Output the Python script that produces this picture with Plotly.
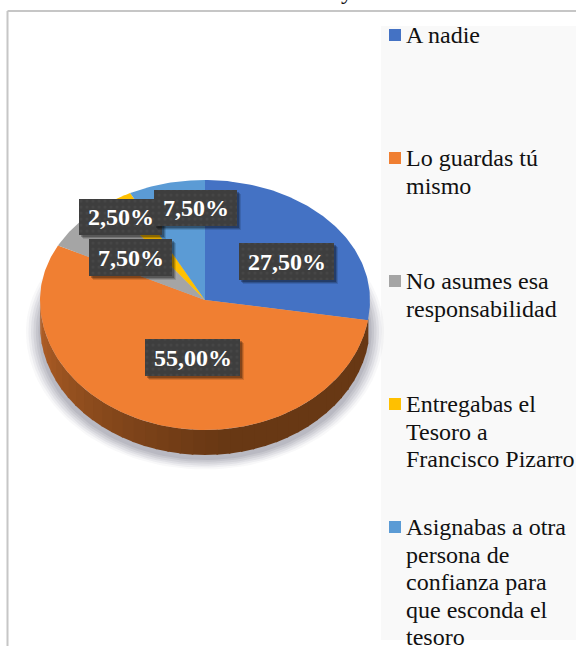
import numpy as np
import plotly.graph_objects as go

categories = [
    "A nadie",
    "Lo guardas tú mismo",
    "No asumes esa responsabilidad",
    "Entregabas el Tesoro a Francisco Pizarro",
    "Asignabas a otra persona de confianza para que esconda el tesoro",
]
values = [27.5, 55.0, 7.5, 2.5, 7.5]
pct_labels = ["27,50%", "55,00%", "7,50%", "2,50%", "7,50%"]
colors = ["#4472C4", "#F07F32", "#A5A5A5", "#FFC000", "#5B9BD5"]
legend_lines = [
    ["A nadie"],
    ["Lo guardas tú", "mismo"],
    ["No asumes esa", "responsabilidad"],
    ["Entregabas el", "Tesoro a", "Francisco Pizarro"],
    ["Asignabas a otra", "persona de", "confianza para", "que esconda el", "tesoro"],
]
legend_key_y = [35, 158, 281, 404, 527]

W, H = 576, 646
CX, CY = 205, 300      # pie apex in page pixels
RX, RY = 165, 120      # pie radius, sideways and towards the back
FRONT = 130 / 120      # front half looks bigger (perspective)
DEPTH = 25 / 120       # wall height
SERIF = "Liberation Serif"
LINE_STEP = 27.6

# label boxes: x0, x1, y0, y1 in page pixels, drawn in this order
label_boxes = {
    1: (145, 240, 339, 376),
    0: (239, 334, 243, 280),
    2: (89, 172, 239, 276),
    3: (79, 162, 199, 235),
    4: (154, 237, 190, 226),
}


def rim(theta):
    """Point on the top face for an angle clockwise from 12 o'clock."""
    c = np.cos(theta)
    return np.sin(theta), np.where(c < 0, c * FRONT, c)


def sector(start, end):
    t = np.linspace(start, end, max(int((end - start) * 60), 3))
    x, y = rim(t)
    return np.r_[0, x, 0], np.r_[0, y, 0]


def wall_color(theta):
    # lit on the left edge, dark from the front round to the right
    k = max(0.0, (theta - np.pi * 0.95) / (np.pi * 0.55)) ** 1.2
    dark, light = (104, 56, 20), (182, 98, 40)
    return "rgb(%d,%d,%d)" % tuple(d + (l - d) * k for d, l in zip(dark, light))


fig = go.Figure()

# soft shadow under the pie
t = np.linspace(0, 2 * np.pi, 160)
sx, sy = rim(t)
for grow, alpha in [(1.085, 0.05), (1.07, 0.08), (1.055, 0.10), (1.04, 0.12), (1.025, 0.14), (1.01, 0.16)]:
    fig.add_trace(go.Scatter(
        x=sx * grow, y=sy * grow * 0.98 - DEPTH * 1.25,
        mode="lines", line=dict(width=0), fill="toself",
        fillcolor=f"rgba(120,120,135,{alpha})", hoverinfo="skip", showlegend=False,
    ))

# side wall, only the front of the pie shows
edges = np.linspace(np.pi * 0.545, np.pi * 1.5, 41)
for a, b in zip(edges[:-1], edges[1:]):
    x, y = rim(np.linspace(a, b + 0.01, 5))
    fig.add_trace(go.Scatter(
        x=np.r_[x, x[::-1]], y=np.r_[y, y[::-1] - DEPTH],
        mode="lines", line=dict(width=0), fill="toself",
        fillcolor=wall_color((a + b) / 2), hoverinfo="skip", showlegend=False,
    ))

# top face
angles = np.cumsum([0] + values) / sum(values) * 2 * np.pi
for i, name in enumerate(categories):
    x, y = sector(angles[i], angles[i + 1])
    fig.add_trace(go.Scatter(
        x=x, y=y, name=name, mode="lines", line=dict(width=0), fill="toself",
        fillcolor=colors[i], hoveron="fills", showlegend=False,
    ))

# overlay axes in page pixels for the label boxes and the legend keys
for i, (x0, x1, y0, y1) in label_boxes.items():
    for off, alpha in [(4, 0.12), (3, 0.18), (2, 0.25)]:
        fig.add_trace(go.Bar(
            x=[(x0 + x1) / 2 + off], y=[y1 - y0], base=[y0 + off], width=[x1 - x0],
            marker=dict(color=f"rgba(0,0,0,{alpha})", line_width=0),
            xaxis="x2", yaxis="y2", hoverinfo="skip", showlegend=False,
        ))
    fig.add_trace(go.Bar(
        x=[(x0 + x1) / 2], y=[y1 - y0], base=[y0], width=[x1 - x0],
        marker=dict(
            color="#3E3E3E", line_width=0,
            pattern=dict(shape=".", fgcolor="#4E4E4E", bgcolor="#3E3E3E", size=6, solidity=0.2),
        ),
        xaxis="x2", yaxis="y2", hoverinfo="skip", showlegend=False,
    ))
    fig.add_annotation(
        x=(x0 + x1) / 2, y=(y0 + y1) / 2, xref="x2", yref="y2", text=f"<b>{pct_labels[i]}</b>",
        showarrow=False, font=dict(family=SERIF, size=24, color="white"),
    )

fig.add_trace(go.Scatter(
    x=[395] * 5, y=legend_key_y, mode="markers",
    marker=dict(symbol="square", size=12, color=colors, line_width=0),
    xaxis="x2", yaxis="y2", hoverinfo="skip", showlegend=False,
))
for lines, key_y in zip(legend_lines, legend_key_y):
    for n, text in enumerate(lines):
        fig.add_annotation(
            x=404, y=key_y + n * LINE_STEP, xref="x2", yref="y2", text=text,
            xanchor="left", yanchor="middle", showarrow=False,
            font=dict(family=SERIF, size=24, color="#111111"),
        )

# clipped end of the title
fig.add_annotation(
    x=347, xref="x2", y=1, yref="paper", yshift=-6, text="y", showarrow=False,
    yanchor="bottom", font=dict(family=SERIF, size=24, color="#111111"),
)

shapes = [
    dict(type="rect", xref="x2", yref="y2", x0=381, x1=W, y0=26, y1=640,
         fillcolor="#F9F9F9", line_width=0, layer="below"),
    dict(type="line", xref="x2", yref="y2", x0=7.5, x1=W, y0=11, y1=11,
         line=dict(color="#C6C6C6", width=2), layer="below"),
    dict(type="line", xref="x2", yref="y2", x0=7.5, x1=7.5, y0=11, y1=H,
         line=dict(color="#C6C6C6", width=2), layer="below"),
]

axis_off = dict(visible=False, fixedrange=True)
fig.update_layout(
    width=W, height=H, autosize=False,
    margin=dict(l=0, r=0, t=0, b=0),
    paper_bgcolor="white", plot_bgcolor="rgba(0,0,0,0)",
    barmode="overlay", bargap=0, showlegend=False, shapes=shapes,
    xaxis=dict(range=[(0 - CX) / RX, (W - CX) / RX], **axis_off),
    yaxis=dict(range=[(CY - H) / RY, CY / RY], **axis_off),
    xaxis2=dict(range=[0, W], overlaying="x", **axis_off),
    yaxis2=dict(range=[H, 0], overlaying="y", **axis_off),
)

fig.write_html(
    "out.html",
    config=dict(displayModeBar=False),
    post_script="document.body.style.margin = '0'; document.body.style.overflow = 'hidden';",
)
